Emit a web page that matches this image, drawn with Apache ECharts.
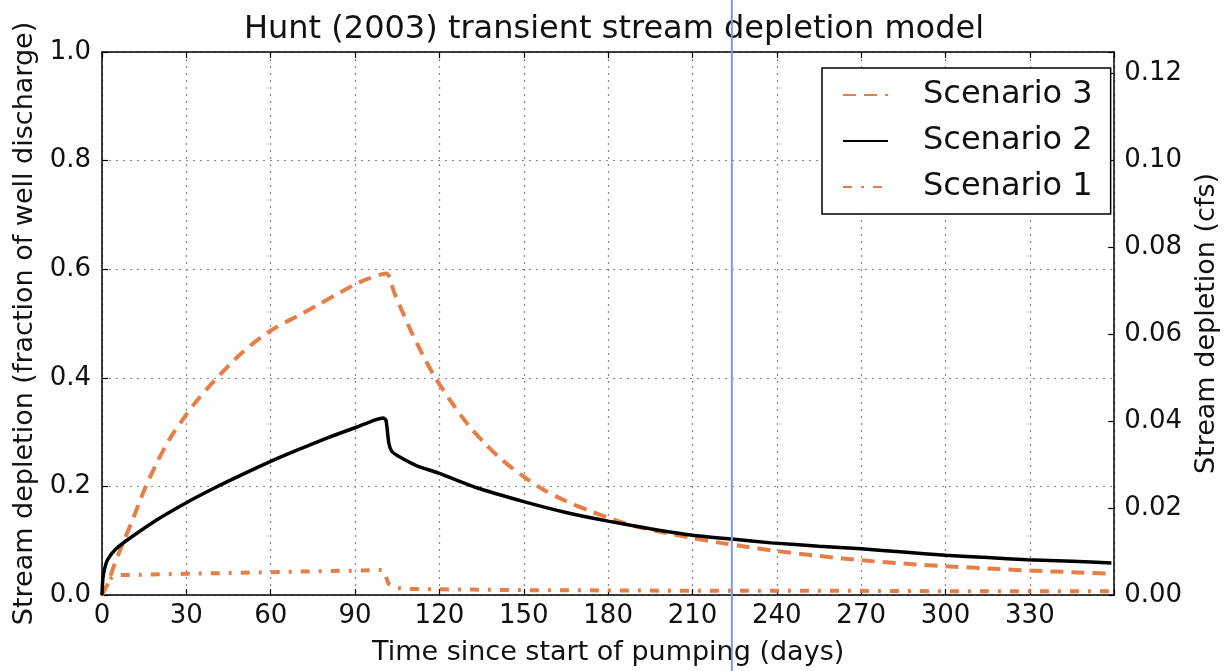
<!DOCTYPE html>
<html>
<head>
<meta charset="utf-8">
<script src="https://cdn.jsdelivr.net/npm/echarts@6/dist/echarts.min.js"></script>
<style>
html,body{margin:0;padding:0;background:#fff;}
#chart{width:1228px;height:671px;}
</style>
</head>
<body>
<div id="chart"></div>
<script>
// ---- Data ----
const titleText = 'Hunt (2003) transient stream depletion model';
const xTicks = [0, 30, 60, 90, 120, 150, 180, 210, 240, 270, 300, 330];
const leftTicks = [0.0, 0.2, 0.4, 0.6, 0.8, 1.0];
const rightTicks = [0.00, 0.02, 0.04, 0.06, 0.08, 0.10, 0.12];
const xMax = 360;
const rightMax = 0.125;
const markerDay = 224;

const scenario3Days = [0, 1, 2, 4, 7, 11, 15, 19, 24, 29, 33, 40, 50, 60, 70, 76, 85, 90, 95, 101, 104, 107, 110, 114, 118, 124, 130, 136, 142, 150, 157, 165, 174, 182, 190, 201, 210, 220, 229, 240, 255, 270, 285, 300, 315, 330, 345, 359];
const scenario3Values = [0, 0.01, 0.02, 0.05, 0.09, 0.14, 0.193, 0.238, 0.287, 0.325, 0.353, 0.395, 0.447, 0.487, 0.515, 0.532, 0.558, 0.572, 0.583, 0.592, 0.556, 0.52, 0.485, 0.443, 0.405, 0.357, 0.315, 0.28, 0.25, 0.218, 0.194, 0.173, 0.154, 0.139, 0.126, 0.114, 0.105, 0.096, 0.089, 0.081, 0.072, 0.064, 0.058, 0.053, 0.049, 0.045, 0.042, 0.039];

const scenario2Days = [0, 0.3, 1, 2, 5, 10, 20, 30, 40, 50, 60, 70, 80, 90, 100, 101, 102, 103, 105, 112, 120, 133, 150, 165, 180, 195, 210, 224, 238, 255, 270, 285, 300, 315, 329, 345, 359];
const scenario2Values = [0, 0.03, 0.05, 0.065, 0.085, 0.105, 0.14, 0.17, 0.197, 0.222, 0.246, 0.268, 0.289, 0.308, 0.326, 0.322, 0.28, 0.265, 0.257, 0.238, 0.224, 0.198, 0.172, 0.152, 0.136, 0.122, 0.11, 0.103, 0.096, 0.09, 0.085, 0.079, 0.073, 0.069, 0.065, 0.062, 0.059];

const scenario1Days = [0, 1, 3, 5, 10, 30, 60, 90, 100, 102, 104, 110, 150, 200, 250, 300, 359];
const scenario1Values = [0, 0.015, 0.03, 0.037, 0.037, 0.039, 0.042, 0.045, 0.046, 0.02, 0.013, 0.011, 0.009, 0.008, 0.008, 0.007, 0.007];

const zip = (a, b) => a.map((d, i) => [d, b[i]]);

const FONT = 'DejaVu Sans';
const ORANGE = '#e67e47';
const chart = echarts.init(document.getElementById('chart'), null, {renderer: 'canvas'});

const frameLine = {show: true, onZero: false, lineStyle: {color: '#000', width: 1.5}};
const tickStyle = {show: true, inside: true, length: 6, lineStyle: {color: '#000', width: 1.2}};
const gridLine = {show: true, lineStyle: {color: '#888', type: [2, 5], width: 1.2}};

const option = {
  animation: false,
  backgroundColor: '#fff',
  textStyle: {fontFamily: FONT},
  title: {
    text: titleText,
    left: 'center',
    top: 9,
    textStyle: {fontFamily: FONT, fontSize: 32, fontWeight: 'normal', color: '#111'}
  },
  grid: {left: 102, right: 103, top: 52, bottom: 74, containLabel: false},
  legend: {
    data: ['Scenario 3', 'Scenario 2', 'Scenario 1'],
    orient: 'vertical',
    left: 822,
    top: 68,
    padding: [11, 18, 11, 20],
    itemGap: 14,
    itemWidth: 45,
    itemHeight: 14,
    borderColor: '#000',
    borderWidth: 1.5,
    borderRadius: 0,
    backgroundColor: '#fff',
    itemStyle: {opacity: 0},
    textStyle: {fontFamily: FONT, fontSize: 32, color: '#111', padding: [0, 0, 0, 30]}
  },
  xAxis: [{
    type: 'value',
    min: 0, max: xMax, interval: 30,
    position: 'bottom',
    name: 'Time since start of pumping (days)',
    nameLocation: 'middle',
    nameGap: 44,
    nameTextStyle: {fontFamily: FONT, fontSize: 27, color: '#111'},
    axisLine: frameLine,
    axisTick: tickStyle,
    axisLabel: {
      fontFamily: FONT, fontSize: 26, color: '#111', margin: 8,
      formatter: v => xTicks.indexOf(v) >= 0 ? String(v) : ''
    },
    splitLine: gridLine
  }, {
    type: 'value',
    min: 0, max: xMax, interval: 30,
    position: 'top',
    axisLine: frameLine,
    axisTick: tickStyle,
    axisLabel: {show: false},
    splitLine: {show: false}
  }],
  yAxis: [{
    type: 'value',
    min: 0, max: 1, interval: 0.2,
    position: 'left',
    name: 'Stream depletion (fraction of well discharge)',
    nameLocation: 'middle',
    nameGap: 60,
    nameTextStyle: {fontFamily: FONT, fontSize: 27, color: '#111'},
    axisLine: frameLine,
    axisTick: tickStyle,
    axisLabel: {
      fontFamily: FONT, fontSize: 26, color: '#111', margin: 11,
      formatter: v => leftTicks.some(t => Math.abs(t - v) < 1e-9) ? v.toFixed(1) : ''
    },
    splitLine: gridLine
  }, {
    type: 'value',
    min: 0, max: rightMax, interval: 0.02,
    position: 'right',
    name: 'Stream depletion (cfs)',
    nameLocation: 'middle',
    nameGap: 75,
    nameRotate: 90,
    nameTextStyle: {fontFamily: FONT, fontSize: 27, color: '#111'},
    axisLine: frameLine,
    axisTick: tickStyle,
    axisLabel: {
      fontFamily: FONT, fontSize: 26, color: '#111', margin: 10,
      formatter: v => rightTicks.some(t => Math.abs(t - v) < 1e-9) ? v.toFixed(2) : ''
    },
    splitLine: {show: false}
  }],
  series: [{
    name: 'Scenario 3',
    type: 'line',
    xAxisIndex: 0, yAxisIndex: 0,
    data: zip(scenario3Days, scenario3Values),
    symbol: 'none',
    smooth: 0.3,
    lineStyle: {color: ORANGE, width: 4, type: [13, 8]},
    itemStyle: {color: ORANGE},
    z: 3
  }, {
    name: 'Scenario 2',
    type: 'line',
    xAxisIndex: 0, yAxisIndex: 0,
    data: zip(scenario2Days, scenario2Values),
    symbol: 'none',
    smooth: 0.2,
    lineStyle: {color: '#000', width: 3.5, type: 'solid'},
    itemStyle: {color: '#000'},
    z: 4
  }, {
    name: 'Scenario 1',
    type: 'line',
    xAxisIndex: 0, yAxisIndex: 0,
    data: zip(scenario1Days, scenario1Values),
    symbol: 'none',
    lineStyle: {color: ORANGE, width: 4, type: [9, 9, 3, 9]},
    itemStyle: {color: ORANGE},
    z: 3
  }]
};

chart.setOption(option);

// thin vertical blue marker spanning the whole picture, placed through the x scale
const mx = chart.convertToPixel({xAxisIndex: 0}, markerDay);
chart.setOption({
  graphic: [{
    type: 'line',
    shape: {x1: mx, y1: 0, x2: mx, y2: 671},
    style: {stroke: '#7b96f0', lineWidth: 2},
    z: 100
  }]
});
</script>
</body>
</html>
